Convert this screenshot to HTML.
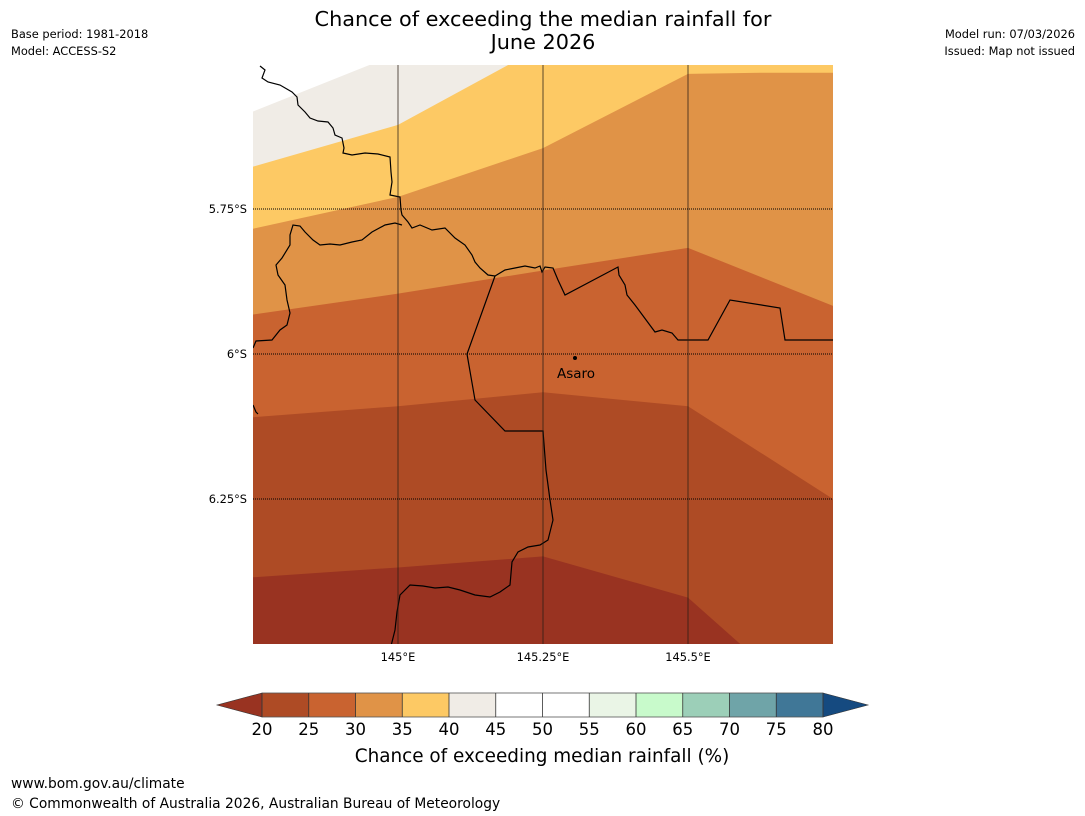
<!DOCTYPE html>
<html><head><meta charset="utf-8"><style>
body{margin:0;background:#fff;width:1085px;height:816px;overflow:hidden;font-family:"DejaVu Sans","Liberation Sans",sans-serif}
svg{display:block}
</style></head><body>
<svg id="fig" width="1085" height="816">
<text x="543" y="26" text-anchor="middle" font-size="20.8">Chance of exceeding the median rainfall for</text>
<text x="543" y="49" text-anchor="middle" font-size="20.8">June 2026</text>
<text x="11" y="38" font-size="11.4">Base period: 1981-2018</text>
<text x="11" y="55" font-size="11.4">Model: ACCESS-S2</text>
<text x="1075" y="38" font-size="11.4" text-anchor="end">Model run: 07/03/2026</text>
<text x="1075" y="55" font-size="11.4" text-anchor="end">Issued: Map not issued</text>
<defs><clipPath id="mc"><rect x="253" y="65" width="580" height="579"/></clipPath></defs>
<g id="map" clip-path="url(#mc)"></g>
<g id="cb"></g>
<text x="542" y="762" text-anchor="middle" font-size="18.4">Chance of exceeding median rainfall (%)</text>
<text x="11" y="788" font-size="13.8">www.bom.gov.au/climate</text>
<text x="11" y="808" font-size="13.8">© Commonwealth of Australia 2026, Australian Bureau of Meteorology</text>
</svg>
<script>
const lons=[144.75,144.9,145.0,145.11,145.25,145.5,145.75,145.95];
const bandColors=["#ffffff","#f0ece6","#fdc964","#e09347","#c96330","#ae4b25","#993321"];
const bandNames=["band-45-50","band-40-45","band-35-40","band-30-35","band-25-30","band-20-25","band-below-20"];
const bounds=[
 [[144.75,-5.5],[145.95,-5.5]],
 [[144.75,-5.582],[144.955,-5.5],[145.95,-5.5]],
 [[144.75,-5.677],[145.0,-5.605],[145.193,-5.5],[145.95,-5.5]],
 [[144.75,-5.784],[145.0,-5.729],[145.25,-5.645],[145.5,-5.517],[145.625,-5.515],[145.95,-5.515]],
 [[144.75,-5.932],[145.0,-5.896],[145.25,-5.856],[145.5,-5.817],[145.75,-5.917],[145.95,-5.917]],
 [[144.75,-6.109],[145.0,-6.09],[145.25,-6.066],[145.5,-6.09],[145.75,-6.25],[145.95,-6.25]],
 [[144.75,-6.385],[145.0,-6.368],[145.25,-6.349],[145.5,-6.42],[145.59,-6.5],[145.95,-6.5]]
];
const gridLons=[145.0,145.25,145.5], gridLonLabels=["145°E","145.25°E","145.5°E"];
const gridLats=[-5.75,-6.0,-6.25], gridLatLabels=["5.75°S","6°S","6.25°S"];
const cbTicks=[20,25,30,35,40,45,50,55,60,65,70,75,80];
const cbColors=["#ae4b25","#c96330","#e09347","#fdc964","#f0ece6","#ffffff","#ffffff","#eaf5e6","#c8facb","#9ccfb8","#6fa4a8","#407797"];
const xs=l=>398+(l-145)*580;
const ys=a=>354-(a+6)*580;
const NS="http://www.w3.org/2000/svg";
function mk(tag,attrs,parent){const e=document.createElementNS(NS,tag);for(const k in attrs)e.setAttribute(k,attrs[k]);parent.appendChild(e);return e;}
const map=document.getElementById('map'), fig=document.getElementById('fig');
bounds.forEach((b,i)=>{
  let pts=b.map(p=>xs(p[0])+","+ys(p[1])).join(" ");
  pts+=" "+xs(145.95)+",700 "+xs(144.75)+",700";
  const p=mk('polygon',{points:pts,fill:bandColors[i]},map);
  
  
});
const borderA="260,66 265,70 262,78 268,82 280,85 292,92 297,97 298,105 305,112 310,118 318,121 328,122 333,128 335,135 342,138 344,148 343,153 352,155 365,153 378,154 390,157 391,172 392,182 390,195 400,197 401,210 402,215 408,222 412,228 420,225 432,230 445,228 455,238 465,245 472,255 475,262 480,268 488,275 495,276 505,270 515,268 525,266 535,268 540,266 542,272 545,267 553,268 558,280 565,295 618,267 619,275 625,285 627,295 635,305 655,332 662,330 672,333 678,340 708,340 730,300 780,308 785,340 835,340";
const borderB="402,225 395,223 385,225 372,232 362,240 352,242 340,245 330,244 320,245 313,240 305,232 300,226 293,225 290,235 290,245 282,258 276,265 278,275 285,285 287,300 290,313 287,325 280,330 272,340 256,341 253,348";
const borderC="495,276 467,354 475,400 505,431 543,431 546,470 550,500 553,520 548,540 540,545 528,547 518,552 512,562 510,585 500,592 490,597 475,595 460,590 448,587 435,588 423,586 410,585 400,595 397,612 395,630 391,646";
[[borderA,'border-north'],[borderB,'border-west'],[borderC,'border-south']].forEach(([p,n])=>{
  const e=mk('polyline',{points:p,fill:'none',stroke:'#000','stroke-width':1.2},map);
  
});
mk('polyline',{points:"253,405 256,412 258,414",fill:'none',stroke:'#000','stroke-width':1.2},map);
gridLons.forEach((l,i)=>{
  const e=mk('line',{x1:xs(l),x2:xs(l),y1:65,y2:644,stroke:'rgba(40,30,20,0.5)','stroke-width':1.5},map);
  
  const t=mk('text',{x:xs(l),y:661,'text-anchor':'middle','font-size':11.4},fig);t.textContent=gridLonLabels[i];
  
});
gridLats.forEach((a,i)=>{
  const e=mk('line',{x1:253,x2:833,y1:ys(a),y2:ys(a),stroke:'#000','stroke-width':1,'stroke-dasharray':'1,1'},map);
  
  const t=mk('text',{x:247,y:ys(a)+4,'text-anchor':'end','font-size':11.4},fig);t.textContent=gridLatLabels[i];
  
});
const dot=mk('circle',{cx:575,cy:358,r:2,fill:'#000'},map);

const at=mk('text',{x:576,y:378,'text-anchor':'middle','font-size':13.5},map);at.textContent="Asaro";

const cb=document.getElementById('cb');
const cx=v=>262+(v-20)*(823-262)/60;
const y0=693,y1=717;
const lt=mk('polygon',{points:`${cx(20)},${y0} 217,705 ${cx(20)},${y1}`,fill:'#993321',stroke:'#333','stroke-width':0.6},cb);

const rt=mk('polygon',{points:`${cx(80)},${y0} 868,705 ${cx(80)},${y1}`,fill:'#154a80',stroke:'#333','stroke-width':0.6},cb);

cbColors.forEach((c,i)=>{
  const r=mk('rect',{x:cx(cbTicks[i]),y:y0,width:cx(cbTicks[i+1])-cx(cbTicks[i]),height:y1-y0,fill:c},cb);
  
});
mk('rect',{x:cx(20),y:y0,width:cx(80)-cx(20),height:y1-y0,fill:'none',stroke:'#555','stroke-width':0.8},cb);
cbTicks.forEach(v=>{
  mk('line',{x1:cx(v),x2:cx(v),y1:y0,y2:y1,stroke:'#333','stroke-width':0.8},cb);
  const t=mk('text',{x:cx(v),y:735,'text-anchor':'middle','font-size':16.5},cb);t.textContent=v;
  
});
</script>
</body></html>
